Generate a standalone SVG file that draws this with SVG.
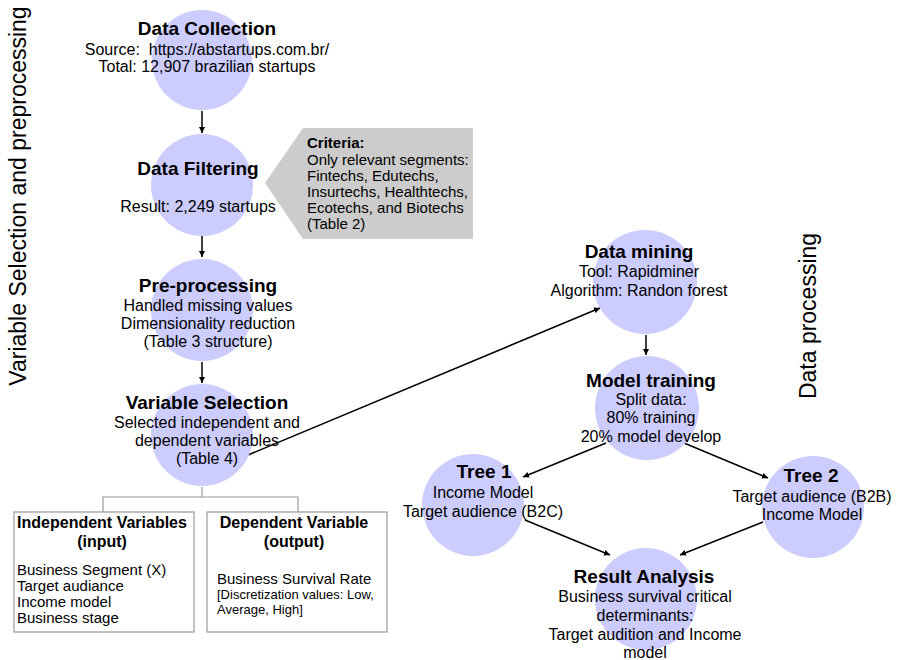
<svg xmlns="http://www.w3.org/2000/svg" width="897" height="660" viewBox="0 0 897 660">
  <style>
    text { font-family: "Liberation Sans", Arial, sans-serif; fill: #000; }
    .title { font-size: 19px; font-weight: bold; text-anchor: middle; }
    .body { font-size: 16px; text-anchor: middle; }
    .bubble { fill: #ccccff; }
    .flow { stroke: #000; stroke-width: 1.5; fill: none; marker-end: url(#arrow); }
    .tree { stroke: #999; stroke-width: 1.2; fill: none; }
    .box { fill: #fff; stroke: #999; stroke-width: 1.2; }
    .boxhead { font-size: 16px; font-weight: bold; text-anchor: middle; }
    .item { font-size: 15px; }
    .small { font-size: 13px; }
    .crit { font-size: 15px; }
    .side { font-size: 23px; text-anchor: middle; }
  </style>
  <defs>
    <marker id="arrow" viewBox="0 0 10 10" refX="10" refY="5" markerWidth="6" markerHeight="6" markerUnits="userSpaceOnUse" orient="auto">
      <path d="M0,0 L10,5 L0,10 z" fill="#000"/>
    </marker>
  </defs>
  <rect width="897" height="660" fill="#fff"/>

  <!-- phase labels -->
  <text class="side" transform="translate(26,196) rotate(-90)">Variable Selection and preprocessing</text>
  <text class="side" transform="translate(816,316) rotate(-90)">Data processing</text>

  <!-- connectors -->
  <g id="connectors">
    <line class="flow" x1="202" y1="111" x2="202" y2="133"/>
    <line class="flow" x1="202" y1="236" x2="202" y2="257"/>
    <line class="flow" x1="202" y1="362" x2="202" y2="383"/>
    <line class="flow" x1="248" y1="455" x2="600" y2="308"/>
    <line class="flow" x1="646" y1="335" x2="646" y2="355"/>
    <line class="flow" x1="606" y1="443" x2="523" y2="477"/>
    <line class="flow" x1="684" y1="443" x2="768" y2="478"/>
    <line class="flow" x1="525" y1="520" x2="610" y2="555"/>
    <line class="flow" x1="763" y1="522" x2="680" y2="555"/>
    <polyline class="tree" points="202,487 202,497"/>
    <polyline class="tree" points="103,512 103,497 298,497 298,512"/>
  </g>

  <g id="data-collection">
    <circle class="bubble" cx="202" cy="60" r="50"/>
    <text class="title" x="207" y="35">Data Collection</text>
    <text class="body" x="207" y="55" xml:space="preserve">Source:  https://abstartups.com.br/</text>
    <text class="body" x="207" y="72">Total: 12,907 brazilian startups</text>
  </g>

  <g id="data-filtering">
    <circle class="bubble" cx="202" cy="185" r="51"/>
    <text class="title" x="198" y="175">Data Filtering</text>
    <text class="body" x="198" y="212">Result: 2,249 startups</text>
  </g>

  <g id="criteria">
    <polygon points="265,183 303,128 473,128 473,239 303,239" fill="#cccccc"/>
    <text class="crit" x="307" y="148" font-weight="bold">Criteria:</text>
    <text class="crit" x="307" y="165">Only relevant segments:</text>
    <text class="crit" x="307" y="181">Fintechs, Edutechs,</text>
    <text class="crit" x="307" y="197">Insurtechs, Healthtechs,</text>
    <text class="crit" x="307" y="213">Ecotechs, and Biotechs</text>
    <text class="crit" x="307" y="229">(Table 2)</text>
  </g>

  <g id="pre-processing">
    <circle class="bubble" cx="202" cy="310" r="51"/>
    <text class="title" x="208" y="292">Pre-processing</text>
    <text class="body" x="208" y="311">Handled missing values</text>
    <text class="body" x="208" y="329">Dimensionality reduction</text>
    <text class="body" x="208" y="347">(Table 3 structure)</text>
  </g>

  <g id="variable-selection">
    <circle class="bubble" cx="202" cy="435" r="51"/>
    <text class="title" x="207" y="409">Variable Selection</text>
    <text class="body" x="207" y="428">Selected independent and</text>
    <text class="body" x="207" y="446">dependent variables</text>
    <text class="body" x="207" y="464">(Table 4)</text>
  </g>

  <g id="independent-variables">
    <rect class="box" x="14" y="512" width="180" height="120"/>
    <text class="boxhead" x="102" y="528">Independent Variables</text>
    <text class="boxhead" x="102" y="547">(input)</text>
    <text class="item" x="17" y="575">Business Segment (X)</text>
    <text class="item" x="17" y="591">Target audiance</text>
    <text class="item" x="17" y="607">Income model</text>
    <text class="item" x="17" y="623">Business stage</text>
  </g>

  <g id="dependent-variable">
    <rect class="box" x="207" y="512" width="180" height="120"/>
    <text class="boxhead" x="294" y="528">Dependent Variable</text>
    <text class="boxhead" x="294" y="547">(output)</text>
    <text class="item" x="217" y="584">Business Survival Rate</text>
    <text class="small" x="217" y="599">[Discretization values: Low,</text>
    <text class="small" x="217" y="614">Average, High]</text>
  </g>

  <g id="data-mining">
    <circle class="bubble" cx="645" cy="282" r="52"/>
    <text class="title" x="639" y="258">Data mining</text>
    <text class="body" x="639" y="277">Tool: Rapidminer</text>
    <text class="body" x="639" y="296">Algorithm: Randon forest</text>
  </g>

  <g id="model-training">
    <circle class="bubble" cx="647" cy="408" r="52"/>
    <text class="title" x="651" y="387">Model training</text>
    <text class="body" x="651" y="405">Split data:</text>
    <text class="body" x="651" y="423">80% training</text>
    <text class="body" x="651" y="442">20% model develop</text>
  </g>

  <g id="tree-1">
    <circle class="bubble" cx="473" cy="505" r="51"/>
    <text class="title" x="484" y="478">Tree 1</text>
    <text class="body" x="483" y="498">Income Model</text>
    <text class="body" x="483" y="517">Target audience (B2C)</text>
  </g>

  <g id="tree-2">
    <circle class="bubble" cx="813" cy="507" r="51"/>
    <text class="title" x="811" y="482">Tree 2</text>
    <text class="body" x="812" y="502">Target audience (B2B)</text>
    <text class="body" x="812" y="520">Income Model</text>
  </g>

  <g id="result-analysis">
    <circle class="bubble" cx="646" cy="599" r="51"/>
    <text class="title" x="644" y="583">Result Analysis</text>
    <text class="body" x="645" y="602">Business survival critical</text>
    <text class="body" x="645" y="621">determinants:</text>
    <text class="body" x="645" y="640">Target audition and Income</text>
    <text class="body" x="645" y="658">model</text>
  </g>
</svg>
